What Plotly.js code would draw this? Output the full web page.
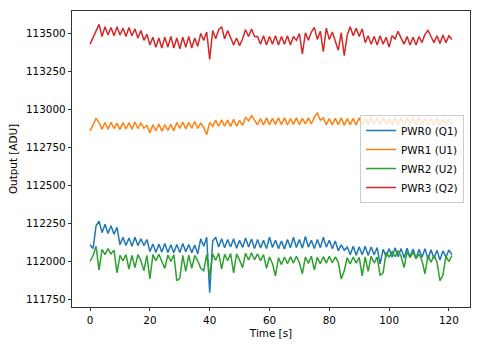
<!DOCTYPE html>
<html>
<head>
<meta charset="utf-8">
<script src="https://cdn.plot.ly/plotly-3.0.1.min.js"></script>
<style>html,body{margin:0;padding:0;background:#fff;}#chart{width:480px;height:347px;}</style>
</head>
<body>
<div id="chart"></div>
<script>
// time axis (seconds)
const timeSec = Array.from({length: 122}, (_, i) => i);

const seriesNames = ["PWR0 (Q1)", "PWR1 (U1)", "PWR2 (U2)", "PWR3 (Q2)"];
const seriesColors = ["#1f77b4", "#ff7f0e", "#2ca02c", "#d62728"];

const pwr0 = [112110,112085,112235,112265,
112190,112245,112185,112235,112180,112225,
112110,112160,112105,112155,112100,112160,112105,112150,112105,112145,
112065,112115,112060,112115,112062,112118,112060,112110,112058,112112,112060,112118,112065,112112,112058,112108,
112050,112150,112100,112160,111795,
112135,112160,112095,112150,112090,
112145,112095,112150,112088,112140,
112092,112155,112095,112148,112085,
112145,112090,112140,112085,112160,
112092,112140,112085,112135,112082,
112145,112090,112160,112092,112145,
112088,112165,112095,112140,112085,
112145,112090,112160,112095,112140,
112085,112135,112070,112110,112075,
112095,112045,112100,112042,112098,112045,112100,112040,112095,112045,112092,
111985,
112080,112030,112085,112028,112090,112032,112085,112025,112088,112030,112082,112020,
112080,112028,112085,112015,112078,112020,112075,112010,112070,112030,112075,112045];

const pwr1 = [112860,112900,112940,112915,
112870,112915,112870,112915,112875,112910,112868,112915,112872,112912,112870,112918,112875,112910,112878,112895,
112845,
112900,112860,112905,112858,112900,112862,112902,112860,
112915,112875,112918,112872,112915,112878,112920,112875,112912,112880,
112835,
112915,112890,112930,112888,112932,112890,112930,112888,112935,112890,112928,112895,
112950,112925,112960,112930,
112900,112940,112898,112945,112900,112942,112902,112945,112900,112945,112898,112940,112902,112945,112900,112942,112905,112945,112905,112950,
112975,
112930,112945,112900,112940,112898,
112942,112900,112945,112895,112940,
112900,112942,112898,112945,112900,
112940,112902,112948,112900,112945,
112902,112948,112900,112942,112898,
112945,112902,112948,112900,112942,
112898,112945,112900,112948,112902,
112945,112898,112942,112900,112945,
112898,112940,112895,112938,112905];

const pwr2 = [112000,112040,112100,111945,112080,112045,112085,112050,112075,111925,
112040,112005,112045,111950,112040,111960,112045,112005,111940,112040,
111885,112045,112005,112048,112000,111955,112042,112000,112045,111875,
111890,112040,111935,112042,111955,112040,112005,111955,111940,112045,
111900,112050,112008,112055,111950,112048,112005,112052,111925,112050,
112008,111960,112055,112010,112058,112012,112050,112005,112045,111955,
112030,111985,111905,112025,111980,112030,111985,112032,111990,112035,
111992,111920,112030,111988,112035,111945,112028,111985,112032,111990,
112035,111992,112030,111995,111885,111940,112025,111985,112030,111990,
112028,111905,112030,111935,112035,111990,112030,111910,111925,112060,
112030,112065,112032,112070,112035,111960,112065,112025,112060,112020,
112050,112005,111920,112040,111995,112040,111998,111875,111910,112035,
112000,112040];

const pwr3 = [113430,113475,113525,113560,
113480,113545,113490,113540,113485,113545,113490,113535,113480,113540,113485,113530,
113470,113520,113455,113495,113425,
113475,113410,113470,113405,113475,113410,113480,113405,113470,113400,113475,113410,113480,113405,113470,113415,
113500,113455,113510,113330,
113520,113465,113525,113545,113465,113520,113470,
113425,113470,113420,113465,
113525,113480,113530,113480,
113480,113430,113485,113425,113480,113430,113485,113425,113480,113430,113485,113425,113480,
113455,113500,113365,
113505,113455,113510,113540,113460,113515,113380,
113535,113460,113510,113455,113390,113505,113355,
113490,113545,113485,113535,113480,113530,
113440,113485,113430,113480,113425,113485,113430,113475,113410,
113485,113465,113515,113470,
113430,113480,113425,113475,113425,113480,113440,113495,
113520,113480,
113440,113485,113435,113490,113440,113485,113460];

const yTicks = [111750,112000,112250,112500,112750,113000,113250,113500];
const xTicks = [0,20,40,60,80,100,120];

const allSeries = [pwr0, pwr1, pwr2, pwr3];
const traces = allSeries.map((ys, k) => ({
  x: timeSec, y: ys, type: 'scatter', mode: 'lines',
  name: seriesNames[k],
  line: {color: seriesColors[k], width: 1.5}
}));

const font = {family: 'DejaVu Sans', size: 10.4, color: '#000'};
const layout = {
  width: 480, height: 347,
  margin: {l: 72, r: 10, t: 11, b: 40, pad: 0},
  paper_bgcolor: '#fff', plot_bgcolor: '#fff',
  font: font,
  showlegend: true,
  xaxis: {
    range: [-6.05, 127.05], tickvals: xTicks, ticktext: xTicks.map(String),
    showgrid: false, zeroline: false, showline: true, mirror: true,
    linecolor: '#000', linewidth: 0.8, ticks: 'outside', ticklen: 3.5, tickcolor: '#000', tickwidth: 0.8,
    title: {text: 'Time [s]', font: font, standoff: 4}
  },
  yaxis: {
    range: [111701, 113648], tickvals: yTicks, ticktext: yTicks.map(String),
    showgrid: false, zeroline: false, showline: true, mirror: true,
    linecolor: '#000', linewidth: 0.8, ticks: 'outside', ticklen: 3.5, tickcolor: '#000', tickwidth: 0.8,
    title: {text: 'Output [ADU]', font: font, standoff: 6}
  },
  legend: {
    x: 0.985, y: 0.5, xanchor: 'right', yanchor: 'middle',
    bgcolor: 'rgba(255,255,255,0.8)', bordercolor: '#cccccc', borderwidth: 1,
    font: font, tracegroupgap: 0
  }
};
Plotly.newPlot('chart', traces, layout, {displayModeBar: false, staticPlot: true});
</script>
</body>
</html>
